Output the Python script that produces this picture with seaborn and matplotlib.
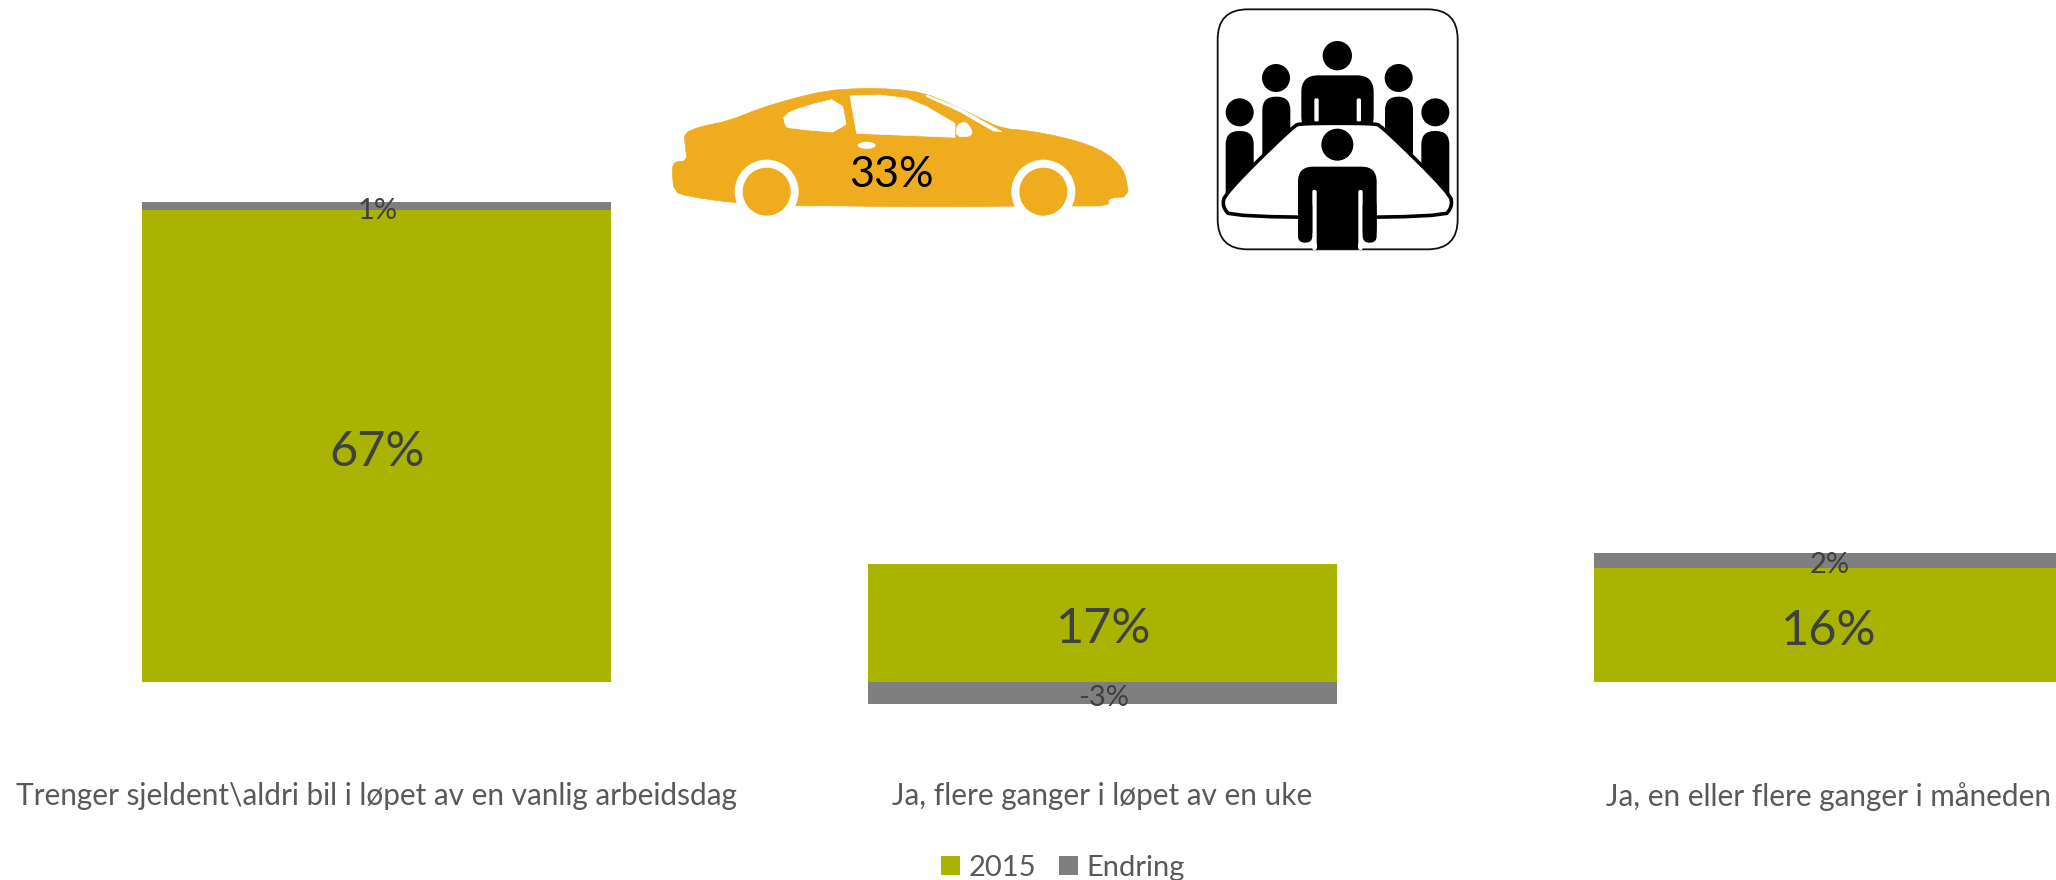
import matplotlib
matplotlib.use('Agg')
import matplotlib.pyplot as plt
from matplotlib.patches import Circle, Ellipse, FancyBboxPatch, Polygon, Rectangle
import pandas as pd
import seaborn as sns

categories = ['Trenger sjeldent\\aldri bil i løpet av en vanlig arbeidsdag',
              'Ja, flere ganger i løpet av en uke',
              'Ja, en eller flere ganger i måneden']
values_2015 = [66.9, 16.7, 16.1]
values_endring = [1.1, -3.2, 2.2]
series_names = ['2015', 'Endring']
car_label = '33%'

GREEN = '#A8B400'
GREY = '#7F7F7F'
CAR = '#EFAC1F'
LABEL = '#404040'
TICK = '#595959'

sns.set_style('white')
plt.rcParams['font.family'] = ['Lato', 'DejaVu Sans']

W, H = 2056, 880
fig = plt.figure(figsize=(W / 100, H / 100), dpi=100)

# axes runs past the right edge, the last bar is cut off like in the original
ax = fig.add_axes([13.5 / W, 1 - 717 / H, 2178 / W, (717 - 153) / H])

df = pd.DataFrame({'kategori': categories, 'y2015': values_2015, 'endring': values_endring})
# negative changes hang below zero, positive ones stack on top of 2015
df['start'] = df['y2015'].where(df['endring'] > 0, 0)

sns.barplot(data=df, x='kategori', y='y2015', color=GREEN, saturation=1, width=0.646,
            linewidth=0, label=series_names[0], ax=ax)
sns.barplot(data=df, x='kategori', y='endring', bottom=df['start'], color=GREY, saturation=1,
            width=0.646, linewidth=0, label=series_names[1], ax=ax)

big = ax.bar_label(ax.containers[0], fmt=lambda v: '{:.0f}%'.format(v), label_type='center',
                   fontsize=35, color=LABEL)
small = ax.bar_label(ax.containers[1], fmt=lambda v: '{:.0f}%'.format(v), label_type='center',
                     fontsize=21, color=LABEL)
# Lato sits a bit high when centred
for t in big:
    t.xyann = (0.5, -4.2)
for t in small:
    t.xyann = (0.5, -3.4)

ax.set_xlim(-0.5, 2.5)
ax.set_ylim(-5, 75)
ax.set_xlabel('')
ax.set_ylabel('')
ax.set_yticks([])
ax.tick_params(axis='x', length=0, pad=47, labelsize=21.4, labelcolor=TICK)
sns.despine(ax=ax, left=True, bottom=True, top=True, right=True)
ax.patch.set_alpha(0)

ax.legend(loc='center', bbox_to_anchor=(1063 / W, 1 - 868 / H), bbox_transform=fig.transFigure,
          ncol=2, frameon=False, fontsize=21, labelcolor=TICK, handlelength=0.64, handleheight=0.64,
          handletextpad=0.3, columnspacing=0.8, borderpad=0)

# icons, drawn in pixel space on top of the chart
icons = fig.add_axes([0, 0, 1, 1])
icons.set_xlim(0, W)
icons.set_ylim(H, 0)
icons.axis('off')
icons.patch.set_alpha(0)


def smooth(points, rounds=2):
    # corner cutting, keeps the hand read outlines from looking faceted
    for _ in range(rounds):
        out = []
        for i, (x0, y0) in enumerate(points):
            x1, y1 = points[(i + 1) % len(points)]
            out.append((0.75 * x0 + 0.25 * x1, 0.75 * y0 + 0.25 * y1))
            out.append((0.25 * x0 + 0.75 * x1, 0.25 * y0 + 0.75 * y1))
        points = out
    return points


def car_xy(x, y):
    return 660 + x / 3, 70 + y / 3


def room_xy(x, y):
    return 1205 + x / 3, y / 3


def car_poly(points, color):
    icons.add_patch(Polygon([car_xy(*p) for p in points], closed=True, fc=color, ec=color, lw=0.5,
                            joinstyle='round'))


car_body = [(72, 190), (120, 170), (205, 153), (300, 115), (400, 85), (500, 62), (600, 55), (700, 57),
            (790, 68), (880, 105), (960, 145), (1025, 175), (1110, 183), (1200, 200), (1280, 222),
            (1340, 250), (1380, 285), (1398, 320), (1406, 380), (1345, 384), (1345, 408), (1238, 408),
            (1060, 408), (950, 410), (700, 410), (500, 407), (410, 408), (225, 399), (90, 380), (42, 366),
            (36, 300), (42, 276), (82, 272), (76, 230)]
car_poly(smooth(car_body, 1), CAR)
car_poly(smooth([(370, 135), (430, 110), (543, 82), (563, 190), (385, 175), (375, 165)], 1), 'white')
car_poly([(570, 78), (660, 75), (740, 85), (800, 110), (885, 160), (885, 202), (590, 190)], 'white')
car_poly(smooth([(890, 165), (915, 155), (930, 170), (938, 190), (925, 200), (890, 200)], 1), 'white')
car_poly([(800, 75), (900, 115), (1025, 185), (1000, 183), (900, 125), (800, 80)], 'white')
icons.add_patch(Ellipse(car_xy(620, 226), 18, 7, fc='white', ec='none'))
for wx in (320, 1150):
    icons.add_patch(Circle(car_xy(wx, 365), 32, fc='white', ec='none'))
    icons.add_patch(Circle(car_xy(wx, 365), 24, fc=CAR, ec='none'))
cx, cy = car_xy(695, 297)
icons.text(cx, cy + 6, car_label, ha='center', va='center', fontsize=31, color='black')


def room_box(x0, y0, x1, y1, r, fc='black', ec='none', lw=0, z=2):
    x, y = room_xy(x0, y0)
    icons.add_patch(FancyBboxPatch((x + r / 3, y + r / 3), (x1 - x0 - 2 * r) / 3, (y1 - y0 - 2 * r) / 3,
                                   boxstyle='round,pad={},rounding_size={}'.format(r / 3, r / 3),
                                   fc=fc, ec=ec, lw=lw, zorder=z))


room_box(38, 28, 758, 748, 90, fc='white', ec='#111111', lw=1.3, z=1)

# people behind the table
for hx, hy, hr in [(397, 167, 44), (213, 234, 42), (581, 234, 42), (104, 337, 42), (691, 337, 42)]:
    icons.add_patch(Circle(room_xy(hx, hy), hr / 3, fc='black', ec='none', zorder=2))
room_box(172, 290, 256, 520, 40)
room_box(540, 290, 624, 520, 40)
room_box(62, 393, 146, 620, 40)
room_box(649, 393, 733, 620, 40)
room_box(289, 226, 506, 400, 50)
for sx in (328, 455):
    room_box(sx, 295, sx + 13, 365, 5, fc='white', z=3)

# table
table = [(290, 370), (505, 370), (530, 378), (735, 580), (742, 620), (715, 652), (80, 652),
         (52, 620), (60, 580), (265, 378)]
icons.add_patch(Polygon([room_xy(*p) for p in smooth(table)], closed=True, fc='white', ec='black', lw=2.6,
                        joinstyle='round', zorder=4))

# person in front
icons.add_patch(Circle(room_xy(397, 434), 48 / 3, fc='black', ec='none', zorder=5))
room_box(279, 500, 515, 730, 45, z=5)
room_box(322, 570, 335, 750, 5, fc='white', z=6)
room_box(460, 570, 473, 750, 5, fc='white', z=6)
icons.add_patch(Rectangle(room_xy(335, 600), 125 / 3, 148 / 3, fc='black', ec='none', zorder=7))
for x0, x1 in [(279, 322), (473, 515)]:
    icons.add_patch(Rectangle(room_xy(x0 - 2, 700), (x1 - x0 + 4) / 3, 34 / 3, fc='white', ec='none', zorder=6))
    room_box(x0, 600, x1, 728, 20, z=7)

fig.savefig('out.png', dpi=100)
